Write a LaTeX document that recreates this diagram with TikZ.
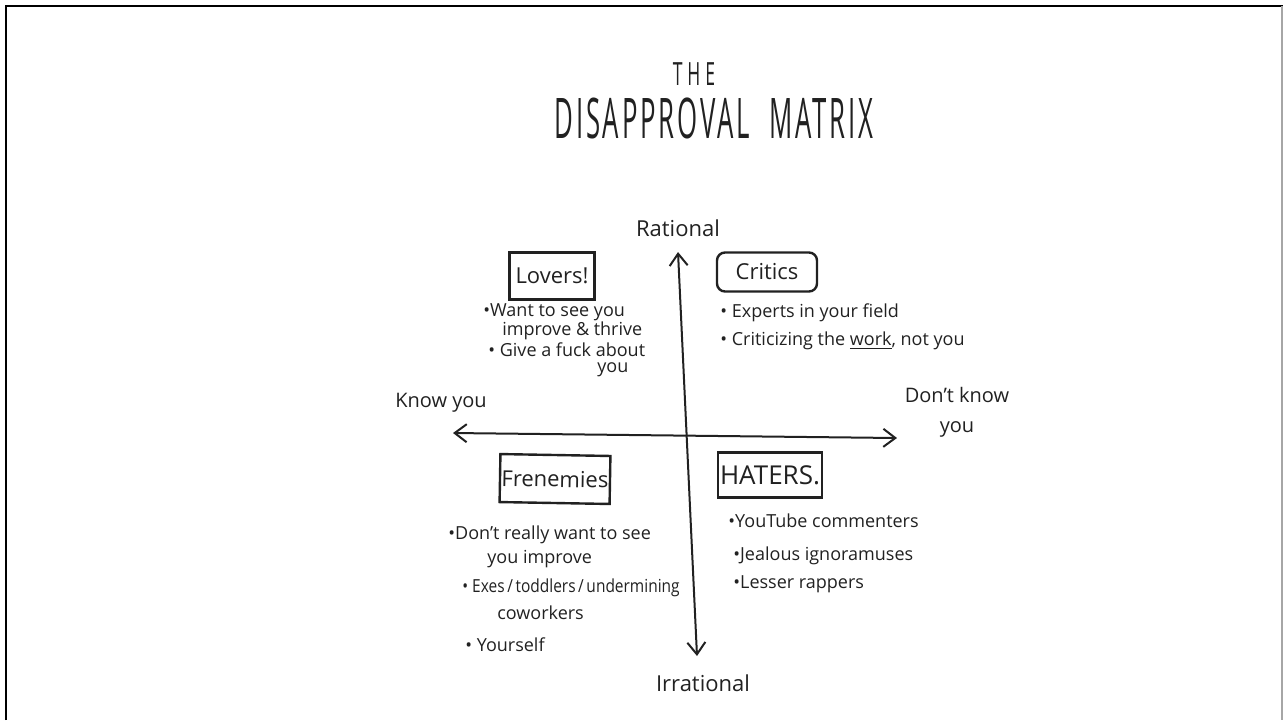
\documentclass[tikz,border=0pt]{standalone}
\usepackage{fontspec}
\setmainfont{Open Sans}
\newfontfamily\titlefont{Open Sans}[FakeStretch=0.46,LetterSpace=5]
\newfontfamily\thefont{Open Sans}[FakeStretch=0.55,LetterSpace=15]
\usetikzlibrary{arrows.meta}

\begin{document}
\begin{tikzpicture}[x=0.5pt,y=-0.5pt]
  \definecolor{kInk}{rgb}{0.13,0.13,0.13}
  \tikzset{
    hand/.style={color=kInk,inner sep=0pt,font=\fontsize{9}{11}\selectfont},
    boxed/.style={draw=kInk,line width=1.2pt,color=kInk,inner sep=0pt,font=\fontsize{11}{13}\selectfont},
    axis/.style={color=kInk,line width=1pt,{Straight Barb[length=6pt,width=9pt]}-{Straight Barb[length=6pt,width=9pt]}}
  }
  \useasboundingbox (0,0) rectangle (1283,720);

  \draw[line width=1.3pt] (6,720) -- (6,6) -- (1283,6);
  \draw[gray!70,line width=0.6pt] (1282,6) -- (1282,720);

  \node[color=kInk,font=\thefont\fontsize{16}{18}\selectfont] (the) at (694,74) {THE};
  \node[color=kInk,font=\titlefont\fontsize{28}{30}\selectfont] (title) at (714,118) {DISAPPROVAL\hspace{10pt}MATRIX};

  \coordinate (top) at (678,252);
  \coordinate (bottom) at (697,656);
  \coordinate (left) at (453,433);
  \coordinate (right) at (897,438);
  \draw[axis] (bottom) -- (top);
  \draw[axis] (left) -- (right);

  \node[hand,font=\fontsize{11}{13}\selectfont] (rational) at (678,228) {Rational};
  \node[hand,font=\fontsize{11}{13}\selectfont] (irrational) at (703,683) {Irrational};
  \node[hand,font=\fontsize{10}{12}\selectfont] (knowyou) at (441,403) {Know you};
  \node[hand,align=center,font=\fontsize{10}{15}\selectfont] (dontknow) at (957,412) {Don't know\\you};

  \node[boxed,minimum width=42.5pt,minimum height=23.5pt] (lovers) at (552,276) {Lovers!};
  \node[boxed,rounded corners=4pt,minimum width=50pt,minimum height=19.5pt] (critics) at (767,272) {Critics};
  \node[boxed,rotate=-1,minimum width=55pt,minimum height=24pt] (frenemies) at (555,479) {Frenemies};
  \node[boxed,font=\fontsize{13}{15}\selectfont,minimum width=52pt,minimum height=22.5pt] (haters) at (770,475) {HATERS.};

  \foreach \x/\y/\t [count=\i] in {483/312/{\textbullet Want to see you},502/331/{improve \& thrive},
    488/350/{\textbullet\ Give a fuck about},597/370/{you}}
  {
    \node[hand,anchor=west] (lov\i) at (\x,\y) {\t};
  }

  \foreach \x/\y/\t [count=\i] in {720/313/{\textbullet\ Experts in your field},
    720/341/{\textbullet\ Criticizing the \underline{work}, not you}}
  {
    \node[hand,anchor=west] (cri\i) at (\x,\y) {\t};
  }

  \foreach \x/\y/\t [count=\i] in {448/535/{\textbullet Don't really want to see},487/559/{you improve},
    462/588/{\scalebox{0.86}[1]{\textbullet\ Exes\,/\,toddlers\,/\,undermining}},497/613/{coworkers},465/645/{\textbullet\ Yourself}}
  {
    \node[hand,anchor=west] (fre\i) at (\x,\y) {\t};
  }

  \foreach \x/\y/\t [count=\i] in {728/521/{\textbullet YouTube commenters},733/556/{\textbullet Jealous ignoramuses},
    733/584/{\textbullet Lesser rappers}}
  {
    \node[hand,anchor=west] (hat\i) at (\x,\y) {\t};
  }
\end{tikzpicture}
\end{document}
